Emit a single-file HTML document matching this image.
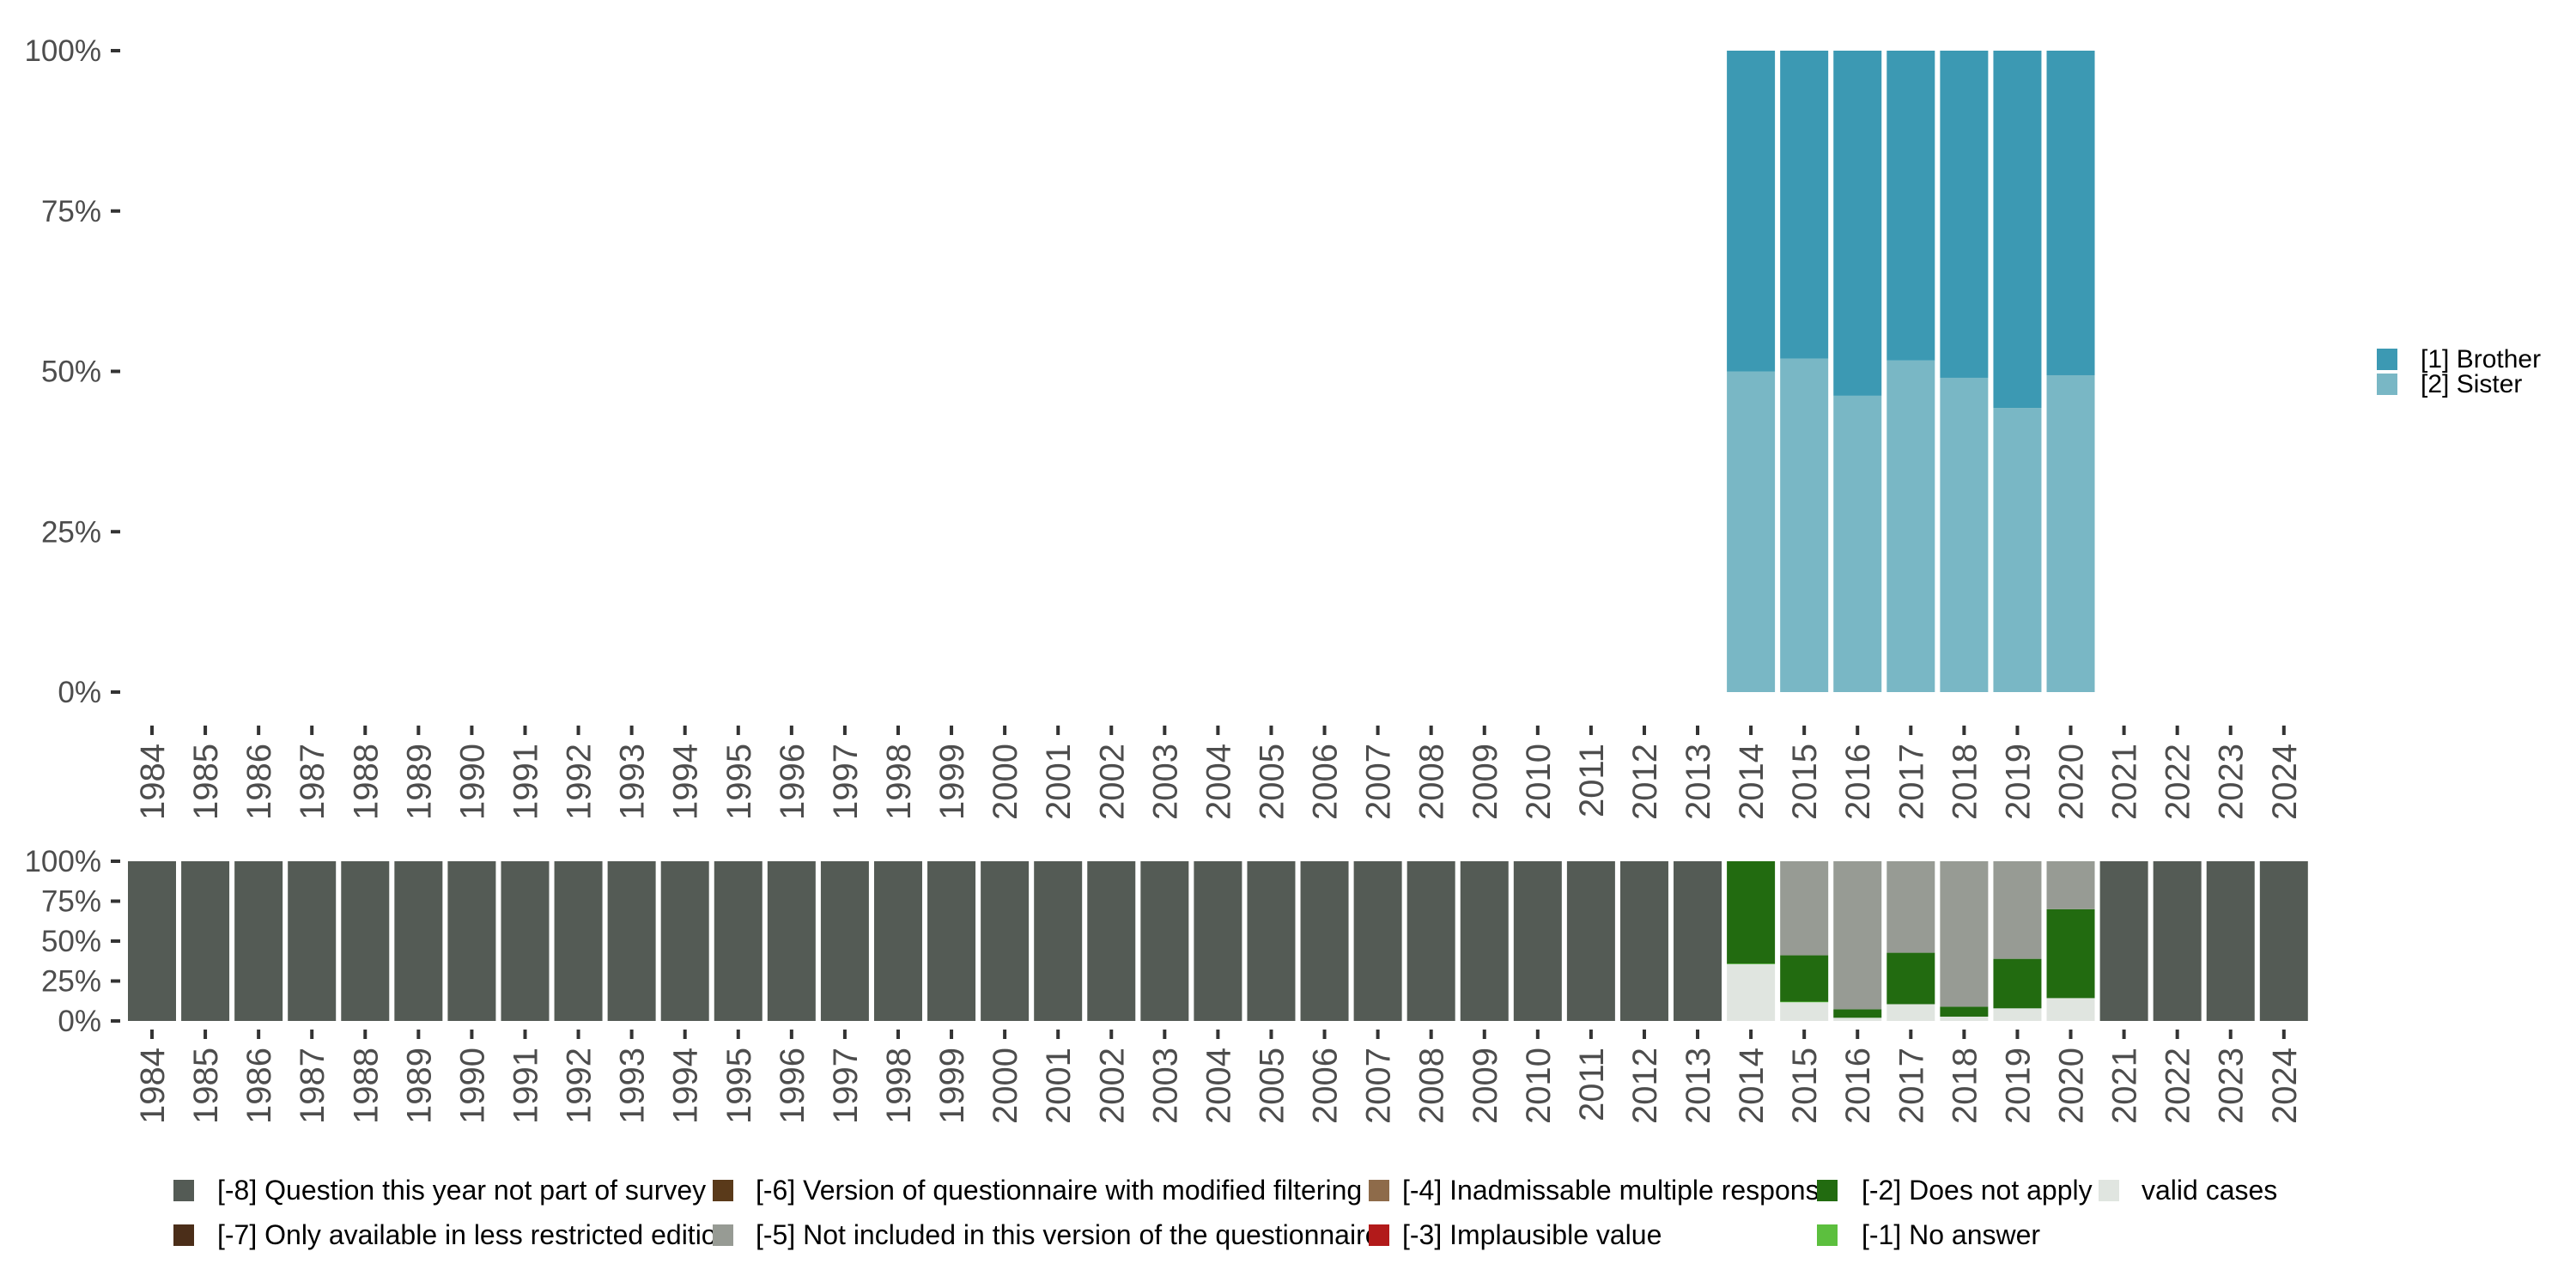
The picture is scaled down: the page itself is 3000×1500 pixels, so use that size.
<!DOCTYPE html>
<html><head><meta charset="utf-8"><style>
html,body{margin:0;padding:0;background:#fff;}
svg{display:block;font-family:"Liberation Sans",sans-serif;}
</style></head><body>
<svg id="chart" width="3000" height="1500" viewBox="0 0 3000 1500" xmlns="http://www.w3.org/2000/svg">
<g id="topPlot"></g>
<g id="botPlot"></g>
<g id="legends"></g>
</svg>
<script>
const years = [];
for (let y = 1984; y <= 2024; y++) years.push(y);
const topYears = [2014, 2015, 2016, 2017, 2018, 2019, 2020];
const sisterVals = [0.50, 0.52, 0.462, 0.517, 0.49, 0.443, 0.494];
const brotherVals = [0.50, 0.48, 0.538, 0.483, 0.51, 0.557, 0.506];
const yTicks = [0, 0.25, 0.5, 0.75, 1];
const yTickLabels = ["0%", "25%", "50%", "75%", "100%"];
const botYears = [2014, 2015, 2016, 2017, 2018, 2019, 2020];
const validVals = [0.355, 0.117, 0.02, 0.105, 0.027, 0.079, 0.143];
const noAnswerVals = [0.004, 0.004, 0, 0, 0, 0, 0];
const dnaVals = [0.641, 0.29, 0.053, 0.322, 0.062, 0.31, 0.557];
const notInclVals = [0, 0.589, 0.927, 0.573, 0.911, 0.611, 0.30];
const missLabels = ["[-8] Question this year not part of survey","[-7] Only available in less restricted edition","[-6] Version of questionnaire with modified filtering","[-5] Not included in this version of the questionnaire","[-4] Inadmissable multiple response","[-3] Implausible value","[-2] Does not apply","[-1] No answer","valid cases"];
const missColors = ["#545B55","#4B2E19","#5A3A1A","#979B94","#8E6B4A","#B21A1A","#226B10","#5CBF3E","#E0E5E0"];

const NS = "http://www.w3.org/2000/svg";
function mk(tag, attrs, parent, txt){const e=document.createElementNS(NS,tag);for(const k in attrs)e.setAttribute(k,attrs[k]);if(txt!==undefined)e.textContent=txt;parent.appendChild(e);return e;}
const x0=177, pitch=62.07, bw=56;
const xc = y => x0 + (y-1984)*pitch;
const topY = v => 806 - v*747;
const botY = v => 1189 - v*186;

const gTop=document.getElementById('topPlot'), gBot=document.getElementById('botPlot'), gLeg=document.getElementById('legends');

function axes(g, yf, tickY, lblY0){
  yTicks.forEach((t,i)=>{
    const r=mk('rect',{x:129,y:yf(t)-2,width:11,height:4,fill:'#333'},g);
    
    
    const tx=mk('text',{x:118,y:yf(t)+12,'text-anchor':'end','font-size':35,fill:'#4d4d4d'},g,yTickLabels[i]);
    
    
  });
  years.forEach(y=>{
    const r=mk('rect',{x:xc(y)-2,y:tickY,width:4,height:11,fill:'#333'},g);
    
    
    const tx=mk('text',{x:0,y:0,'text-anchor':'end','font-size':40,fill:'#4d4d4d',transform:`translate(${xc(y)+14},${lblY0}) rotate(-90)`},g,String(y));
    
    
  });
}
axes(gTop, topY, 845, 866);
axes(gBot, botY, 1199, 1220);

topYears.forEach((y,i)=>{
  const s=mk('rect',{x:xc(y)-bw/2,y:topY(sisterVals[i]),width:bw,height:topY(0)-topY(sisterVals[i]),fill:'#79B7C5'},gTop);
  
  
  const b=mk('rect',{x:xc(y)-bw/2,y:topY(sisterVals[i]+brotherVals[i]),width:bw,height:topY(sisterVals[i])-topY(sisterVals[i]+brotherVals[i]),fill:'#3C99B3'},gTop);
  
  
});

years.forEach(y=>{
  const i=botYears.indexOf(y);
  let segs;
  if(i<0) segs=[[1,missColors[0],'not-part']];
  else segs=[[validVals[i],missColors[8],'valid'],[noAnswerVals[i],missColors[7],'no-answer'],[dnaVals[i],missColors[6],'does-not-apply'],[notInclVals[i],missColors[3],'not-included']];
  let cum=0;
  segs.forEach(s=>{
    if(s[0]<=0) return;
    const r=mk('rect',{x:xc(y)-bw/2,y:botY(cum+s[0]),width:bw,height:botY(cum)-botY(cum+s[0]),fill:s[1]},gBot);
    
    
    cum+=s[0];
  });
});

[["[1] Brother","#3C99B3",406],["[2] Sister","#79B7C5",435]].forEach(d=>{
  const r=mk('rect',{x:2768,y:d[2],width:24,height:25,fill:d[1]},gLeg);
  
  
  const t=mk('text',{x:2819,y:d[2]+22,'font-size':30,fill:'#000'},gLeg,d[0]);
  
  
});
const colX=[[202,253],[830,880],[1594,1633],[2116,2168],[2444,2494]];
const rowY=[1374,1426];
const order=[[0,0,0],[1,0,1],[2,1,0],[3,1,1],[4,2,0],[5,2,1],[6,3,0],[7,3,1],[8,4,0]];
order.forEach(o=>{
  const c=colX[o[1]], y=rowY[o[2]];
  const r=mk('rect',{x:c[0],y:y,width:24,height:25,fill:missColors[o[0]]},gLeg);
  
  
  const t=mk('text',{x:c[1],y:y+23,'font-size':32,fill:'#000'},gLeg,missLabels[o[0]]);
  
  
});
</script>
</body></html>
